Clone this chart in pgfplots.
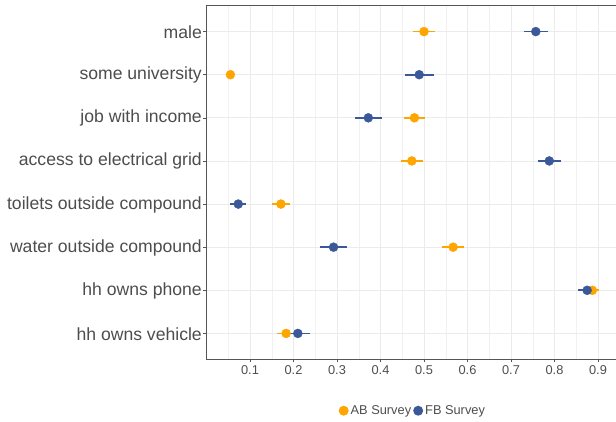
\documentclass[border=0pt]{standalone}
\usepackage{pgfplots}
\pgfplotsset{compat=1.18}
\usepackage{pgfplotstable}
\usepackage{fontspec}
\setmainfont{Liberation Sans}
\definecolor{abcol}{HTML}{FFA500}
\definecolor{fbcol}{HTML}{3B5998}
\definecolor{txt}{HTML}{4D4D4D}
\definecolor{gridc}{HTML}{EBEBEB}
\definecolor{axc}{HTML}{555555}
\pgfplotstableread{
y x e
8 0.500 0.026
7 0.055 0.008
6 0.478 0.025
5 0.472 0.025
4 0.171 0.020
3 0.567 0.026
2 0.887 0.016
1 0.183 0.020
}\abdata
\pgfplotstableread{
y x e
8 0.757 0.028
7 0.489 0.033
6 0.372 0.031
5 0.788 0.027
4 0.073 0.018
3 0.292 0.030
2 0.875 0.021
1 0.210 0.029
}\fbdata
\begin{document}
\begin{tikzpicture}
\useasboundingbox (-206.5pt,-61.7pt) rectangle (409.5pt,359.3pt);
\begin{axis}[
  at={(0pt,0pt)}, anchor=south west,
  scale only axis, width=411pt, height=353.6pt,
  xmin=0, xmax=0.9448, ymin=0.4, ymax=8.6,
  xtick={0.1,0.2,0.3,0.4,0.5,0.6,0.7,0.8,0.9},
  xticklabels={0.1,0.2,0.3,0.4,0.5,0.6,0.7,0.8,0.9},
  minor xtick={0.05,0.15,0.25,0.35,0.45,0.55,0.65,0.75,0.85},
  ytick={1,2,3,4,5,6,7,8},
  yticklabels={hh owns vehicle,hh owns phone,water outside compound,toilets outside compound,access to electrical grid,job with income,some university,male},
  xmajorgrids, ymajorgrids, xminorgrids,
  major grid style={color=gridc, line width=0.7pt},
  minor grid style={color=gridc!70, line width=0.4pt},
  axis line style={color=axc, line width=0.6pt},
  tick align=outside, major tick length=3pt,
  minor tick length=0pt,
  tick style={color=axc, line width=0.5pt},
  xtick pos=bottom, ytick pos=left,
  xticklabel style={font=\fontsize{12.8}{14}\selectfont, text=txt, inner sep=0pt, yshift=-3pt},
  yticklabel style={font=\fontsize{17.6}{19}\selectfont, text=txt, inner sep=0pt, xshift=-1.5pt, yshift=-0.5pt},
  legend style={draw=none, fill=none, at={(0.502,-0.1454)}, anchor=center,
    font=\fontsize{12.8}{14}\selectfont, text=txt,
    /tikz/every even column/.append style={column sep=0pt}},
  legend columns=2,
  legend cell align=left,
  legend image code/.code={\fill[#1] (0pt,0pt) circle (5pt);},
]
\addlegendimage{fill=abcol, draw=none}
\addlegendentry{AB Survey}
\addlegendimage{fill=fbcol, draw=none}
\addlegendentry{FB Survey}
\addplot[forget plot, only marks, color=abcol, mark=*, mark size=4.5pt,
  mark options={draw=none, fill=abcol},
  error bars/.cd, x dir=both, x explicit,
  error mark=none, error bar style={line width=1.7pt, color=abcol}]
  table[x=x, y=y, x error=e] {\abdata};
\addplot[forget plot, only marks, color=fbcol, mark=*, mark size=4.5pt,
  mark options={draw=none, fill=fbcol},
  error bars/.cd, x dir=both, x explicit,
  error mark=none, error bar style={line width=1.7pt, color=fbcol}]
  table[x=x, y=y, x error=e] {\fbdata};
\end{axis}
\end{tikzpicture}
\end{document}
